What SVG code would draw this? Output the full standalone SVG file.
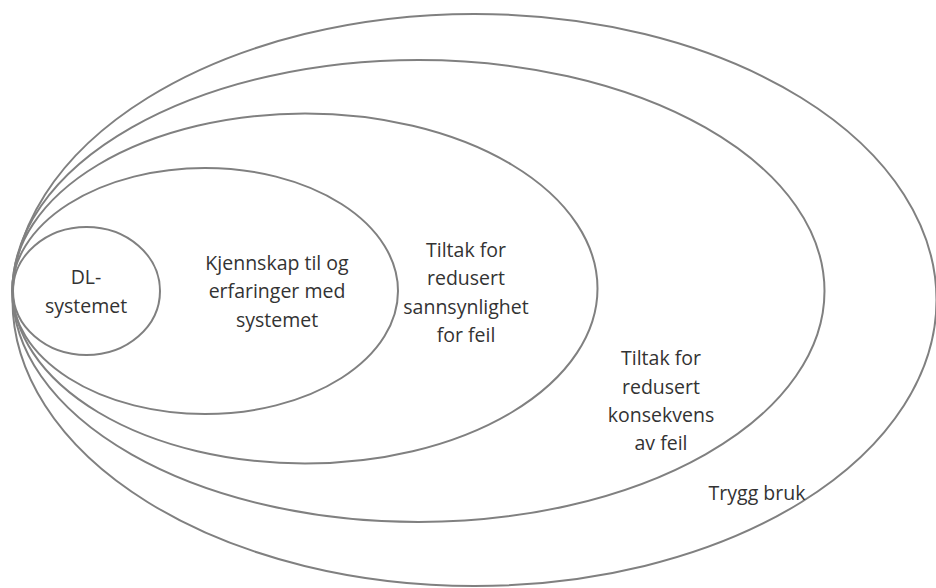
<svg xmlns="http://www.w3.org/2000/svg" width="936" height="588" viewBox="0 0 936 588">
  <style>
    .ring { fill: none; stroke: #808080; stroke-width: 2; }
    .label { font-family: "Open Sans", "Noto Sans", "Liberation Sans", sans-serif; font-size: 19.5px; fill: #333333; text-anchor: middle; }
  </style>
  <rect width="936" height="588" fill="#ffffff"/>

  <!-- outermost to innermost, all touching on the left -->
  <g id="trygg-bruk">
    <ellipse class="ring" cx="474.5" cy="300" rx="462" ry="286"/>
    <text class="label" x="757" y="500">Trygg bruk</text>
  </g>

  <g id="tiltak-konsekvens">
    <ellipse class="ring" cx="418.5" cy="291" rx="406" ry="231"/>
    <text class="label" x="661" y="365">Tiltak for</text>
    <text class="label" x="661" y="393.5">redusert</text>
    <text class="label" x="661" y="422">konsekvens</text>
    <text class="label" x="661" y="450">av feil</text>
  </g>

  <g id="tiltak-sannsynlighet">
    <ellipse class="ring" cx="305" cy="288.5" rx="292.5" ry="175"/>
    <text class="label" x="466" y="256.5">Tiltak for</text>
    <text class="label" x="466" y="285">redusert</text>
    <text class="label" x="466" y="313.5">sannsynlighet</text>
    <text class="label" x="466" y="342">for feil</text>
  </g>

  <g id="kjennskap">
    <ellipse class="ring" cx="205" cy="291" rx="193" ry="123"/>
    <text class="label" x="277" y="269.5">Kjennskap til og</text>
    <text class="label" x="277" y="298">erfaringer med</text>
    <text class="label" x="277" y="326.5">systemet</text>
  </g>

  <g id="dl-systemet">
    <ellipse class="ring" cx="86.5" cy="291" rx="73.5" ry="64"/>
    <text class="label" x="86" y="284">DL-</text>
    <text class="label" x="86" y="313">systemet</text>
  </g>

  <g id="connectors"/>
</svg>
